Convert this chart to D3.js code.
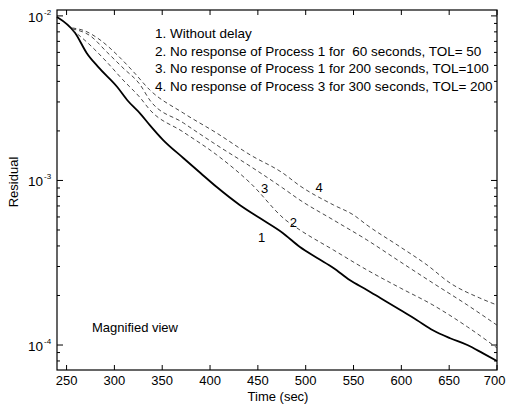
<!DOCTYPE html>
<html>
<head>
<meta charset="utf-8">
<script src="https://cdn.jsdelivr.net/npm/d3@7"></script>
<style>
  body { margin: 0; background: #fff; }
  text { font-family: "Liberation Sans", Arial, sans-serif; fill: #000; }
</style>
</head>
<body>
<div id="chart"></div>
<script>

// residual curves (time in sec, residual)
var solidT = [240, 259, 271, 283, 303, 314, 327, 337, 351, 372, 390, 407, 431, 452, 476, 494, 512, 529, 546, 564, 578, 599, 616, 633, 651, 669, 685, 700];
var solidV = [9.86e-3, 7.88e-3, 5.96e-3, 4.90e-3, 3.70e-3, 3.05e-3, 2.55e-3, 2.17e-3, 1.76e-3, 1.37e-3, 1.11e-3, 9.12e-4, 7.10e-4, 5.91e-4, 4.80e-4, 3.94e-4, 3.38e-4, 2.94e-4, 2.48e-4, 2.16e-4, 1.93e-4, 1.63e-4, 1.42e-4, 1.23e-4, 1.10e-4, 1.00e-4, 8.93e-5, 8.0e-5];

var delay60T = [256, 271, 292, 309, 327, 337, 372, 407, 442, 479, 494, 529, 564, 599, 633, 669, 700];
var delay60V = [8.22e-3, 6.95e-3, 5.25e-3, 4.08e-3, 3.18e-3, 2.69e-3, 1.97e-3, 1.43e-3, 9.66e-4, 5.75e-4, 5.0e-4, 3.78e-4, 2.86e-4, 2.22e-4, 1.75e-4, 1.29e-4, 9.6e-5];

var delay200T = [256, 275, 292, 309, 327, 337, 372, 407, 442, 476, 494, 529, 564, 599, 633, 669, 700];
var delay200V = [8.34e-3, 7.55e-3, 6.04e-3, 4.83e-3, 3.81e-3, 3.08e-3, 2.24e-3, 1.64e-3, 1.22e-3, 9.0e-4, 7.6e-4, 5.75e-4, 4.35e-4, 3.20e-4, 2.38e-4, 1.75e-4, 1.32e-4];

var delay300T = [256, 269, 285, 303, 320, 337, 372, 407, 442, 476, 494, 529, 550, 564, 599, 627, 651, 682, 700];
var delay300V = [8.45e-3, 8.11e-3, 7.15e-3, 5.79e-3, 4.57e-3, 3.55e-3, 2.57e-3, 1.94e-3, 1.43e-3, 1.11e-3, 9.27e-4, 7.10e-4, 6.17e-4, 5.36e-4, 3.94e-4, 3.06e-4, 2.38e-4, 1.93e-4, 1.75e-4];

var xTicks = [250, 300, 350, 400, 450, 500, 550, 600, 650, 700];
var yMajor = [1e-2, 1e-3, 1e-4];
var yExp = ["-2", "-3", "-4"];

var legendLines = [
    "1. Without delay",
    "2. No response of Process 1 for  60 seconds, TOL= 50",
    "3. No response of Process 1 for 200 seconds, TOL=100",
    "4. No response of Process 3 for 300 seconds, TOL= 200"
];

var curveLabels = ["1", "2", "3", "4"];
var labelT = [454, 487, 457, 514];
var labelV = [4.2e-4, 5.2e-4, 8.4e-4, 8.5e-4];

var width = 506, height = 408;
var margin = {top: 10, right: 9, bottom: 38, left: 57};

var svg = d3.select("#chart").append("svg")
    .attr("width", width)
    .attr("height", height);

var x = d3.scaleLinear().domain([240, 700]).range([margin.left, width - margin.right]);
var y = d3.scaleLog().domain([7.05e-5, 1.086e-2]).range([height - margin.bottom, margin.top]);

var x0 = x.range()[0], x1 = x.range()[1];
var y0 = y.range()[0], y1 = y.range()[1];

// minor ticks for log axis
var yMinor = [];
[1e-5, 1e-4, 1e-3, 1e-2].forEach(function(d){
    for (var k = 2; k <= 9; k++) {
        var v = d * k;
        if (v > y.domain()[0] && v < y.domain()[1]) yMinor.push(v);
    }
});

// frame
svg.append("rect")
    .attr("x", x0)
    .attr("y", y1)
    .attr("width", x1 - x0)
    .attr("height", y0 - y1)
    .attr("fill", "none")
    .attr("stroke", "#000")
    .attr("stroke-width", 1.2);

// x ticks, bottom and top, pointing in
xTicks.forEach(function(t){
    svg.append("line")
        .attr("x1", x(t)).attr("x2", x(t))
        .attr("y1", y0).attr("y2", y0 - 5)
        .attr("stroke", "#000");
    svg.append("line")
        .attr("x1", x(t)).attr("x2", x(t))
        .attr("y1", y1).attr("y2", y1 + 5)
        .attr("stroke", "#000");
    var lab = svg.append("text")
        .attr("x", x(t))
        .attr("y", y0 + 15)
        .attr("text-anchor", "middle")
        .style("font-size", "13px")
        .text(t);
    // keep the last label inside the page
    var half = lab.node().getComputedTextLength() / 2;
    if (x(t) + half > width - 0.5) lab.attr("x", width - 0.5 - half);
});

// y ticks, left and right
yMajor.forEach(function(v, i){
    svg.append("line")
        .attr("x1", x0).attr("x2", x0 + 6)
        .attr("y1", y(v)).attr("y2", y(v))
        .attr("stroke", "#000");
    svg.append("line")
        .attr("x1", x1).attr("x2", x1 - 6)
        .attr("y1", y(v)).attr("y2", y(v))
        .attr("stroke", "#000");
    svg.append("text")
        .attr("x", 43)
        .attr("y", y(v) + 6)
        .attr("text-anchor", "end")
        .style("font-size", "13.5px")
        .text("10");
    svg.append("text")
        .attr("x", 44)
        .attr("y", y(v) - 1)
        .style("font-size", "8px")
        .text(yExp[i]);
});

yMinor.forEach(function(v){
    svg.append("line")
        .attr("x1", x0).attr("x2", x0 + 3)
        .attr("y1", y(v)).attr("y2", y(v))
        .attr("stroke", "#000");
    svg.append("line")
        .attr("x1", x1).attr("x2", x1 - 3)
        .attr("y1", y(v)).attr("y2", y(v))
        .attr("stroke", "#000");
});

// curves
var line = d3.line()
    .curve(d3.curveMonotoneX)
    .x(function(d){ return x(d[0]); })
    .y(function(d){ return y(d[1]); });

function addCurve(ts, vs, dashed) {
    svg.append("path")
        .datum(d3.zip(ts, vs))
        .attr("d", line)
        .attr("fill", "none")
        .attr("stroke", dashed ? "#333" : "#000")
        .attr("stroke-width", dashed ? 0.9 : 1.8)
        .attr("stroke-dasharray", dashed ? "4,3" : null);
}

addCurve(solidT, solidV, false);
addCurve(delay60T, delay60V, true);
addCurve(delay200T, delay200V, true);
addCurve(delay300T, delay300V, true);

// curve numbers
curveLabels.forEach(function(s, i){
    svg.append("text")
        .attr("x", x(labelT[i]))
        .attr("y", y(labelV[i]))
        .attr("text-anchor", "middle")
        .style("font-size", "13px")
        .text(s);
});

// legend text (keeps the double space)
legendLines.forEach(function(s, i){
    svg.append("text")
        .attr("x", 155)
        .attr("y", 38 + i * 17.5)
        .style("font-size", "13.5px")
        .style("white-space", "pre")
        .text(s);
});

svg.append("text")
    .attr("x", 92)
    .attr("y", 332)
    .style("font-size", "13px")
    .text("Magnified view");

// axis titles
svg.append("text")
    .attr("x", 278)
    .attr("y", 401)
    .attr("text-anchor", "middle")
    .style("font-size", "13px")
    .text("Time (sec)");

svg.append("text")
    .attr("transform", "translate(18,182) rotate(-90)")
    .attr("text-anchor", "middle")
    .style("font-size", "13px")
    .text("Residual");

</script>
</body>
</html>
